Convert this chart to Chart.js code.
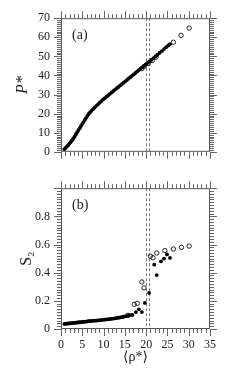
<!DOCTYPE html>
<html>
<head>
<meta charset="utf-8">
<script src="https://cdn.jsdelivr.net/npm/chart.js@4"></script>
<style>
  body { margin:0; background:#fff; }
  #wrap { position:relative; width:250px; height:378px; }
  canvas { position:absolute; left:0; }
</style>
</head>
<body>
<div id="wrap">
  <canvas id="chartA" width="250" height="170" style="top:0"></canvas>
  <canvas id="chartB" width="250" height="208" style="top:170px"></canvas>
</div>
<script>
// panel (a): pressure vs mean density
const rhoA = [0.8,1.1,1.4,1.7,2.0,2.3,2.6,2.9,3.2,3.5,3.8,4.1,4.4,4.7,5.0,5.3,5.6,5.9,6.2,6.5,6.8,7.1,7.5,7.9,8.3,8.7,9.1,9.5,9.9,10.3,10.7,11.1,11.5,11.9,12.3,12.7,13.1,13.5,13.9,14.3,14.7,15.1,15.5,15.9,16.3,16.7,17.1,17.5,17.9,18.3,18.7,19.1,19.5,19.9,20.3,20.7,21.2,21.7,22.2,22.7,23.2,23.7,24.2,24.7,25.2,25.6];
const pA   = [1.4,2.1,2.8,3.5,4.3,5.2,6.1,7.0,8.0,9.2,10.3,11.4,12.4,13.5,14.6,15.6,16.7,17.8,18.9,19.8,20.6,21.4,22.3,23.2,24.1,24.9,25.8,26.6,27.4,28.1,28.9,29.6,30.4,31.1,31.9,32.6,33.3,34.0,34.8,35.5,36.2,36.9,37.7,38.4,39.1,39.9,40.6,41.3,42.1,42.8,43.6,44.3,45.0,45.8,46.5,47.2,48.1,49.0,50.0,50.9,51.9,52.8,53.8,54.8,55.7,56.4];
const openRhoA = [19.0,19.6,20.5,21.4,22.3,26.4,28.2,30.1];
const openPA   = [43.6,44.8,46.3,47.8,49.6,57.4,61.0,64.8];

// panel (b): order parameter S2 vs mean density
const rhoB = [0.8,1.1,1.4,1.7,2.0,2.3,2.6,2.9,3.2,3.5,3.8,4.1,4.4,4.7,5.0,5.3,5.6,5.9,6.2,6.5,6.8,7.1,7.5,7.9,8.3,8.7,9.1,9.5,9.9,10.3,10.7,11.1,11.5,11.9,12.3,12.7,13.1,13.5,13.9,14.3,14.7,15.1,15.5,15.9,16.3,16.8,17.6,18.3,19.0,19.7,20.7,21.9,22.5,23.5,24.2,24.9,25.6];
const s2B  = [0.036,0.037,0.038,0.039,0.040,0.041,0.042,0.043,0.044,0.045,0.046,0.047,0.048,0.049,0.050,0.051,0.052,0.053,0.054,0.055,0.056,0.057,0.058,0.059,0.060,0.061,0.062,0.063,0.065,0.066,0.068,0.069,0.071,0.072,0.074,0.076,0.078,0.080,0.082,0.084,0.087,0.090,0.093,0.096,0.098,0.100,0.120,0.140,0.120,0.185,0.256,0.457,0.383,0.480,0.500,0.530,0.505];
const openRhoB = [15.7,17.2,17.9,19.0,19.5,21.0,21.6,22.5,24.4,26.4,28.3,30.1];
const openS2B  = [0.097,0.175,0.182,0.334,0.292,0.517,0.506,0.540,0.557,0.568,0.580,0.589];

// vertical dashed lines
const transitionRho = [19.9, 20.7];

const SERIF = "'Liberation Serif', 'DejaVu Serif', serif";

function pts(xs, ys) { return xs.map((x, i) => ({ x, y: ys[i] })); }

// frame, outward ticks on all four sides, dashed lines and panel label
const framePlugin = {
  id: 'frame',
  beforeDatasetsDraw(chart, args, o) {
    const ctx = chart.ctx, a = chart.chartArea;
    const xs = chart.scales.x;
    ctx.save();
    ctx.strokeStyle = '#777';
    ctx.lineWidth = 1;
    ctx.setLineDash([3, 2]);
    transitionRho.forEach(v => {
      const px = Math.round(xs.getPixelForValue(v)) + 0.5;
      ctx.beginPath(); ctx.moveTo(px, a.top); ctx.lineTo(px, a.bottom); ctx.stroke();
    });
    ctx.restore();
  },
  afterDraw(chart, args, o) {
    const ctx = chart.ctx, a = chart.chartArea;
    const xs = chart.scales.x, ys = chart.scales.y;
    ctx.save();
    ctx.strokeStyle = '#555';
    ctx.lineWidth = 1;
    ctx.strokeRect(a.left + 0.5, a.top + 0.5, a.right - a.left - 1, a.bottom - a.top - 1);
    ctx.strokeStyle = '#666';
    const nx = Math.round((xs.max - xs.min) / o.xMinor);
    for (let i = 0; i <= nx; i++) {
      const v = xs.min + i * o.xMinor;
      const len = (i % o.xEvery === 0) ? 7 : 4;
      const px = Math.round(xs.getPixelForValue(v)) + 0.5;
      ctx.beginPath();
      ctx.moveTo(px, a.top); ctx.lineTo(px, a.top - len);
      ctx.moveTo(px, a.bottom); ctx.lineTo(px, a.bottom + len);
      ctx.stroke();
    }
    const ny = Math.round((ys.max - ys.min) / o.yMinor);
    for (let i = 0; i <= ny; i++) {
      const v = ys.min + i * o.yMinor;
      const len = (i % o.yEvery === 0) ? 7 : 4;
      const py = Math.round(ys.getPixelForValue(v)) + 0.5;
      ctx.beginPath();
      ctx.moveTo(a.left, py); ctx.lineTo(a.left - len, py);
      ctx.moveTo(a.right, py); ctx.lineTo(a.right + len, py);
      ctx.stroke();
    }
    ctx.fillStyle = '#222';
    ctx.font = '14px ' + SERIF;
    ctx.textBaseline = 'middle';
    ctx.fillText(o.label, a.left + 11, a.top + 17);
    ctx.restore();
  }
};

function scatterSets(fx, fy, ox, oy) {
  return [
    { data: pts(fx, fy), pointRadius: 1.9, pointBackgroundColor: '#000', pointBorderWidth: 0, showLine: false },
    { data: pts(ox, oy), pointRadius: 2.2, pointBackgroundColor: 'rgba(0,0,0,0)', pointBorderColor: '#111', pointBorderWidth: 0.9, showLine: false }
  ];
}

const tickFont = { family: SERIF, size: 12 };

new Chart(document.getElementById('chartA'), {
  type: 'scatter',
  data: { datasets: scatterSets(rhoA, pA, openRhoA, openPA) },
  options: {
    responsive: false, animation: false,
    layout: { padding: { top: 10, right: 40, bottom: 11, left: 0 } },
    plugins: {
      legend: { display: false }, tooltip: { enabled: false },
      frame: { label: '(a)', xMinor: 1, xEvery: 5, yMinor: 1, yEvery: 10 }
    },
    scales: {
      x: { display: false, min: 0, max: 35 },
      y: {
        min: 0, max: 70,
        afterFit: s => { s.width = 61; },
        grid: { display: false, drawTicks: false }, border: { display: false },
        ticks: { stepSize: 10, padding: 11, color: '#222', font: tickFont },
        title: { display: true, text: 'P*', color: '#222', padding: { top: 13 },
                 font: { family: SERIF, size: 16, style: 'italic' } }
      }
    }
  },
  plugins: [framePlugin]
});

new Chart(document.getElementById('chartB'), {
  type: 'scatter',
  data: { datasets: scatterSets(rhoB, s2B, openRhoB, openS2B) },
  options: {
    responsive: false, animation: false,
    layout: { padding: { top: 10, right: 40, bottom: 0, left: 0 } },
    plugins: {
      legend: { display: false }, tooltip: { enabled: false },
      frame: { label: '(b)', xMinor: 1, xEvery: 5, yMinor: 0.02, yEvery: 10 }
    },
    scales: {
      x: {
        min: 0, max: 35,
        afterFit: s => { s.height = 49; },
        grid: { display: false, drawTicks: false }, border: { display: false },
        ticks: { stepSize: 5, padding: 9, maxRotation: 0, color: '#222', font: tickFont },
        title: { display: true, text: '\u27E8\u03C1*\u27E9', color: '#222', padding: { bottom: 12 },
                 font: { family: SERIF, size: 14 } }
      },
      y: {
        min: 0, max: 1,
        afterFit: s => { s.width = 61; },
        grid: { display: false, drawTicks: false }, border: { display: false },
        ticks: { stepSize: 0.2, padding: 11, color: '#222', font: tickFont,
                 callback: v => (v > 0.95 ? '' : (Math.round(v * 10) / 10).toString()) },
        title: { display: true, text: 'S\u2082', color: '#222', padding: { top: 17 },
                 font: { family: SERIF, size: 16 } }
      }
    }
  },
  plugins: [framePlugin]
});
</script>
</body>
</html>
